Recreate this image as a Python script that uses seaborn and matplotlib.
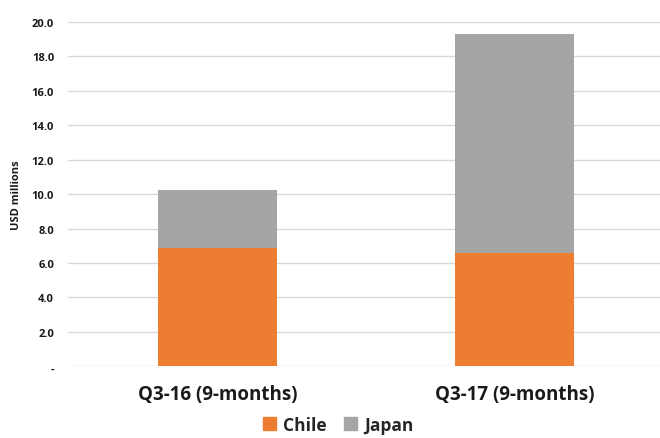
import matplotlib
matplotlib.use("Agg")
import matplotlib.pyplot as plt
import seaborn as sns
import pandas as pd
from matplotlib.patches import Patch

categories = ["Q3-16 (9-months)", "Q3-17 (9-months)"]
chile = [6.85, 6.56]
japan = [3.40, 12.71]
series_names = ["Chile", "Japan"]
yticks = [0, 2, 4, 6, 8, 10, 12, 14, 16, 18, 20]

c_chile = "#ED7D31"
c_japan = "#A5A5A5"

sns.set_theme(style="white")
plt.rcParams['font.family'] = ['Open Sans', 'DejaVu Sans']

df = pd.DataFrame({"cat": categories, "Chile": chile, "Japan": japan})
df["Total"] = df["Chile"] + df["Japan"]

fig = plt.figure(figsize=(6.6, 4.39), dpi=100)
ax = fig.add_axes([0.103, 0.1633, 0.897, 0.7847])

sns.barplot(data=df, x="cat", y="Total", color=c_japan, width=0.4, ax=ax,
            saturation=1, linewidth=0, zorder=3)
sns.barplot(data=df, x="cat", y="Chile", color=c_chile, width=0.4, ax=ax,
            saturation=1, linewidth=0, zorder=4)

ax.set_ylim(0, 20)
ax.set_xlim(-0.503, 1.49)
ax.set_yticks(yticks)
ax.set_yticklabels(["-" if v == 0 else f"{v:.1f}" for v in yticks],
                   fontsize=8, fontweight="bold", color="#1a1a1a")
ax.yaxis.grid(True, color="#D9D9D9", linewidth=1, zorder=0)
ax.set_axisbelow(True)
for s in ax.spines.values():
    s.set_visible(False)
ax.tick_params(axis="y", length=0, pad=10)
ax.tick_params(axis="x", length=0, pad=13)
ax.set_xticks(range(len(categories)))
ax.set_xticklabels(categories, fontsize=13.5, fontweight="bold", color="#1a1a1a")
ax.set_xlabel("")
ax.set_ylabel("USD millions", fontsize=8, fontweight="bold", color="#1a1a1a")
ax.yaxis.set_label_coords(-0.078, 0.5)

handles = [Patch(color=c_chile), Patch(color=c_japan)]
fig.legend(handles, series_names, loc="center", bbox_to_anchor=(0.513, 0.03),
           ncol=2, frameon=False, handlelength=0.75, handleheight=0.75,
           handletextpad=0.4, columnspacing=1.0,
           prop={"size": 12.5, "weight": "bold"})

fig.savefig("out.png", dpi=100)
